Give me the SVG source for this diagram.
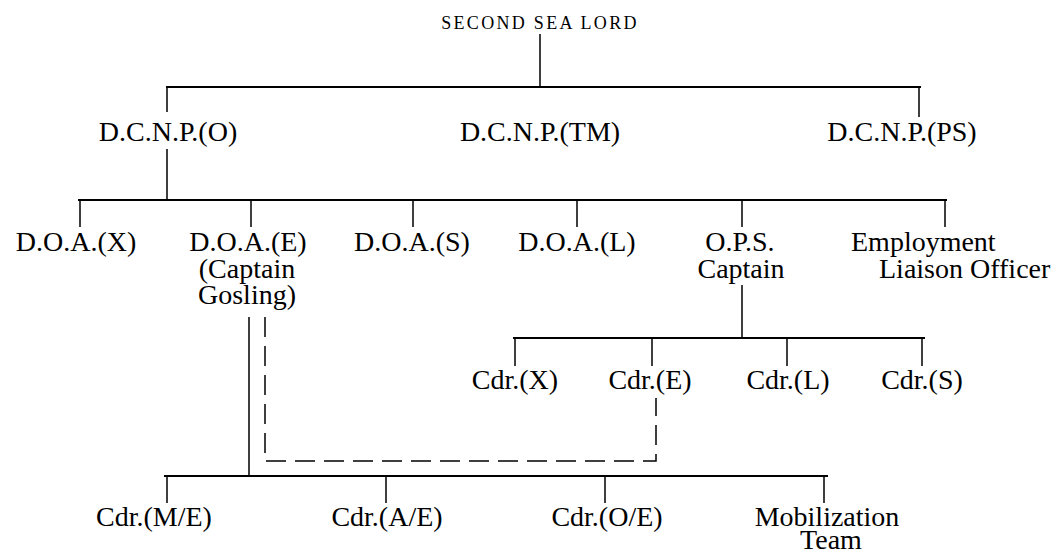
<svg xmlns="http://www.w3.org/2000/svg" width="1062" height="555" viewBox="0 0 1062 555">
<style>
text{font-family:"Liberation Serif","Times New Roman",serif;fill:#000;text-anchor:middle;font-size:28px}
.s{font-size:18px;letter-spacing:2.3px}
.st{text-anchor:start}
.ln{stroke:#000;stroke-width:1.5;fill:none}
.h{stroke:#000;stroke-width:2;fill:none}
.d{stroke:#000;stroke-width:1.5;fill:none;stroke-dasharray:20 9}
</style>
<rect width="1062" height="555" fill="#fff"/>
<g id="connectors">
<path class="ln" d="M540 34V87M167 87V112M919 87V117"/>
<path class="h" d="M166 87H921"/>
<path class="ln" d="M167 149V200M80 200V227M251 200V227M413 200V227M577 200V227M742 200V227M945 200V227"/>
<path class="h" d="M78 200H947"/>
<path class="ln" d="M742 285V338M515 338V366M652 338V366M787 338V366M922 338V366"/>
<path class="h" d="M513 338H925"/>
<path class="ln" d="M249 317V476M167 476V503M386 476V503M605 476V503M824 476V503"/>
<path class="h" d="M164 476H828"/>
<path class="d" d="M265 317V461H656V398"/>
</g>
<g id="n-ssl"><text class="s" x="540" y="29">SECOND SEA LORD</text></g>
<g id="n-dcnpo"><text x="168" y="141">D.C.N.P.(O)</text></g>
<g id="n-dcnptm"><text x="540" y="141">D.C.N.P.(TM)</text></g>
<g id="n-dcnpps"><text x="902" y="141">D.C.N.P.(PS)</text></g>
<g id="n-doax"><text x="76" y="251">D.O.A.(X)</text></g>
<g id="n-doae"><text x="248" y="251">D.O.A.(E)</text><text x="247" y="278">(Captain</text><text x="247" y="304">Gosling)</text></g>
<g id="n-doas"><text x="412" y="251">D.O.A.(S)</text></g>
<g id="n-doal"><text x="577" y="251">D.O.A.(L)</text></g>
<g id="n-ops"><text x="740" y="251">O.P.S.</text><text x="741" y="278">Captain</text></g>
<g id="n-elo"><text class="st" x="851" y="251">Employment</text><text class="st" x="879" y="278">Liaison Officer</text></g>
<g id="n-cdrx"><text x="515" y="389">Cdr.(X)</text></g>
<g id="n-cdre"><text x="650" y="389">Cdr.(E)</text></g>
<g id="n-cdrl"><text x="788" y="389">Cdr.(L)</text></g>
<g id="n-cdrs"><text x="922" y="389">Cdr.(S)</text></g>
<g id="n-cdrme"><text x="154" y="526">Cdr.(M/E)</text></g>
<g id="n-cdrae"><text x="387" y="526">Cdr.(A/E)</text></g>
<g id="n-cdroe"><text x="607" y="526">Cdr.(O/E)</text></g>
<g id="n-mob"><text x="827" y="526">Mobilization</text><text x="831" y="549">Team</text></g>
</svg>
